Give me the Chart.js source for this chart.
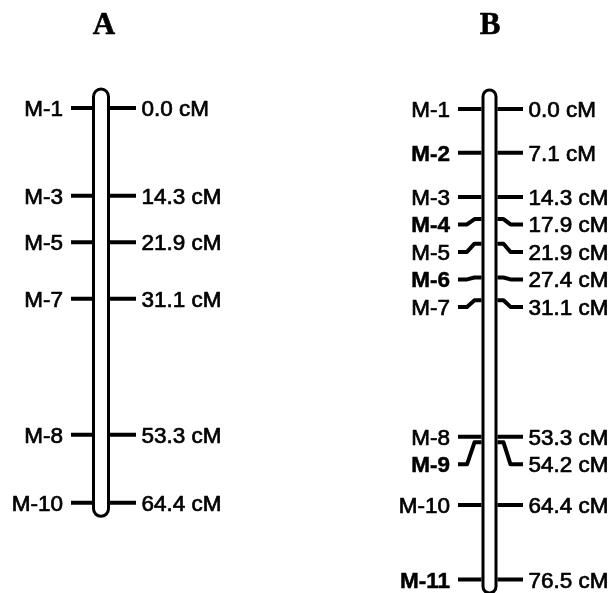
<!DOCTYPE html>
<html>
<head>
<meta charset="utf-8">
<script src="https://cdn.jsdelivr.net/npm/chart.js@4/dist/chart.umd.min.js"></script>
<style>
  html, body { margin: 0; padding: 0; background: #fff; }
  #wrap { position: relative; width: 612px; height: 593px; }
</style>
</head>
<body>
<div id="wrap"><canvas id="map"></canvas></div>
<script>
// Linkage groups and their markers (positions in centiMorgans)
const groupNames = ['A', 'B'];

const markersA   = ['M-1', 'M-3', 'M-5', 'M-7', 'M-8', 'M-10'];
const positionsA = [0.0, 14.3, 21.9, 31.1, 53.3, 64.4];

const markersB   = ['M-1', 'M-2', 'M-3', 'M-4', 'M-5', 'M-6', 'M-7', 'M-8', 'M-9', 'M-10', 'M-11'];
const positionsB = [0.0, 7.1, 14.3, 17.9, 21.9, 27.4, 31.1, 53.3, 54.2, 64.4, 76.5];

// Markers added in map B, printed in bold
const addedMarkersB = ['M-2', 'M-4', 'M-6', 'M-9', 'M-11'];

// Distance labels
const distLabelsA = positionsA.map(v => v.toFixed(1) + ' cM');
const distLabelsB = positionsB.map(v => v.toFixed(1) + ' cM');

// ---- layout / style ----
const W = 612, H = 593;
const LABEL_GAP_CM = 4.47;          // minimum spacing between stacked labels
const groups = [
  { title: groupNames[0], markers: markersA, pos: positionsA, dist: distLabelsA, bold: [],
    axis: 'yA', cx: 101, rodW: 18, titleX: 104,
    leftOut: 30, rightOut: 35 },
  { title: groupNames[1], markers: markersB, pos: positionsB, dist: distLabelsB, bold: addedMarkersB,
    axis: 'yB', cx: 489.5, rodW: 16, titleX: 490,
    leftOut: 31.5, rightOut: 33.5 }
];

// Push labels apart where markers sit too close together
function labelPositions(pos) {
  const out = [];
  pos.forEach((v, i) => {
    out.push(i === 0 ? v : Math.max(v, out[i - 1] + LABEL_GAP_CM));
  });
  return out;
}
groups.forEach(g => { g.labelPos = labelPositions(g.pos); });

// Tick segments: horizontal at label, slant, horizontal at the rod
function tickData(g, side) {
  const half = g.rodW / 2;
  const pts = [];
  g.pos.forEach((v, i) => {
    const lp = g.labelPos[i];
    if (side === 'left') {
      const x0 = g.cx - g.leftOut, x3 = g.cx - half;
      pts.push({ x: x0, y: lp }, { x: x0 + 9, y: lp }, { x: x3 - 7, y: v }, { x: x3, y: v });
    } else {
      const x0 = g.cx + half, x3 = g.cx + g.rightOut;
      pts.push({ x: x0, y: v }, { x: x0 + 6, y: v }, { x: x0 + 13, y: lp }, { x: x3, y: lp });
    }
    pts.push({ x: null, y: null });
  });
  return pts;
}

const datasets = [];
groups.forEach(g => {
  ['left', 'right'].forEach(side => {
    datasets.push({
      label: g.title + ' ' + side,
      data: tickData(g, side),
      yAxisID: g.axis,
      showLine: true,
      spanGaps: false,
      borderColor: '#000',
      borderWidth: 4,
      borderCapStyle: 'butt',
      borderJoinStyle: 'round',
      pointRadius: 0,
      pointHoverRadius: 0,
      tension: 0
    });
  });
});

// Rods and text
const mapPlugin = {
  id: 'linkageMap',
  beforeDatasetsDraw(chart) {
    const ctx = chart.ctx;
    groups.forEach(g => {
      const ys = chart.scales[g.axis];
      const top = ys.getPixelForValue(g.pos[0]) - 19;
      const bot = ys.getPixelForValue(g.pos[g.pos.length - 1]) + 13.5;
      const lw = 3;
      const x = g.cx - g.rodW / 2 + lw / 2;
      const w = g.rodW - lw;
      const r = w / 2;
      ctx.save();
      ctx.beginPath();
      ctx.moveTo(x, top + r);
      ctx.arc(x + r, top + r, r, Math.PI, 0);
      ctx.lineTo(x + w, bot - r);
      ctx.arc(x + r, bot - r, r, 0, Math.PI);
      ctx.closePath();
      ctx.fillStyle = '#fff';
      ctx.fill();
      ctx.lineWidth = lw;
      ctx.strokeStyle = '#000';
      ctx.stroke();
      ctx.restore();
    });
  },
  afterDatasetsDraw(chart) {
    const ctx = chart.ctx;
    const fs = 22.5;
    const sans = fs + 'px "Liberation Sans", Arial, sans-serif';
    const text = (s, x, y, weightStroke) => {
      ctx.fillText(s, x, y);
      if (weightStroke) { ctx.lineWidth = weightStroke; ctx.strokeText(s, x, y); }
    };
    ctx.save();
    ctx.fillStyle = '#000';
    ctx.strokeStyle = '#000';
    ctx.lineJoin = 'round';
    ctx.textBaseline = 'alphabetic';
    groups.forEach(g => {
      const ys = chart.scales[g.axis];
      // title
      ctx.font = 'bold 31px "Liberation Serif", "Times New Roman", serif';
      ctx.textAlign = 'center';
      text(g.title, g.titleX, 34, 0.6);
      g.markers.forEach((m, i) => {
        const y = ys.getPixelForValue(g.labelPos[i]) + fs * 0.358;
        const isBold = g.bold.includes(m);
        ctx.font = (isBold ? 'bold ' : '') + sans;
        ctx.textAlign = 'right';
        text(m, g.cx - g.leftOut - 8, y, isBold ? 0.5 : 0.7);
        ctx.font = sans;
        ctx.textAlign = 'left';
        text(g.dist[i], g.cx + g.rightOut + 5.5, y, 0.7);
      });
    });
    ctx.restore();
  }
};

new Chart(document.getElementById('map'), {
  type: 'scatter',
  data: { datasets },
  options: {
    responsive: true,
    maintainAspectRatio: false,
    animation: false,
    events: [],
    layout: { padding: 0 },
    plugins: { legend: { display: false }, tooltip: { enabled: false } },
    scales: {
      x:  { type: 'linear', min: 0, max: W, display: false },
      yA: { type: 'linear', reverse: true, min: -108 / 6.13, max: (H - 108) / 6.13, display: false },
      yB: { type: 'linear', reverse: true, min: -109 / 6.15, max: (H - 109) / 6.15, display: false }
    }
  },
  plugins: [mapPlugin]
});
</script>
</body>
</html>
